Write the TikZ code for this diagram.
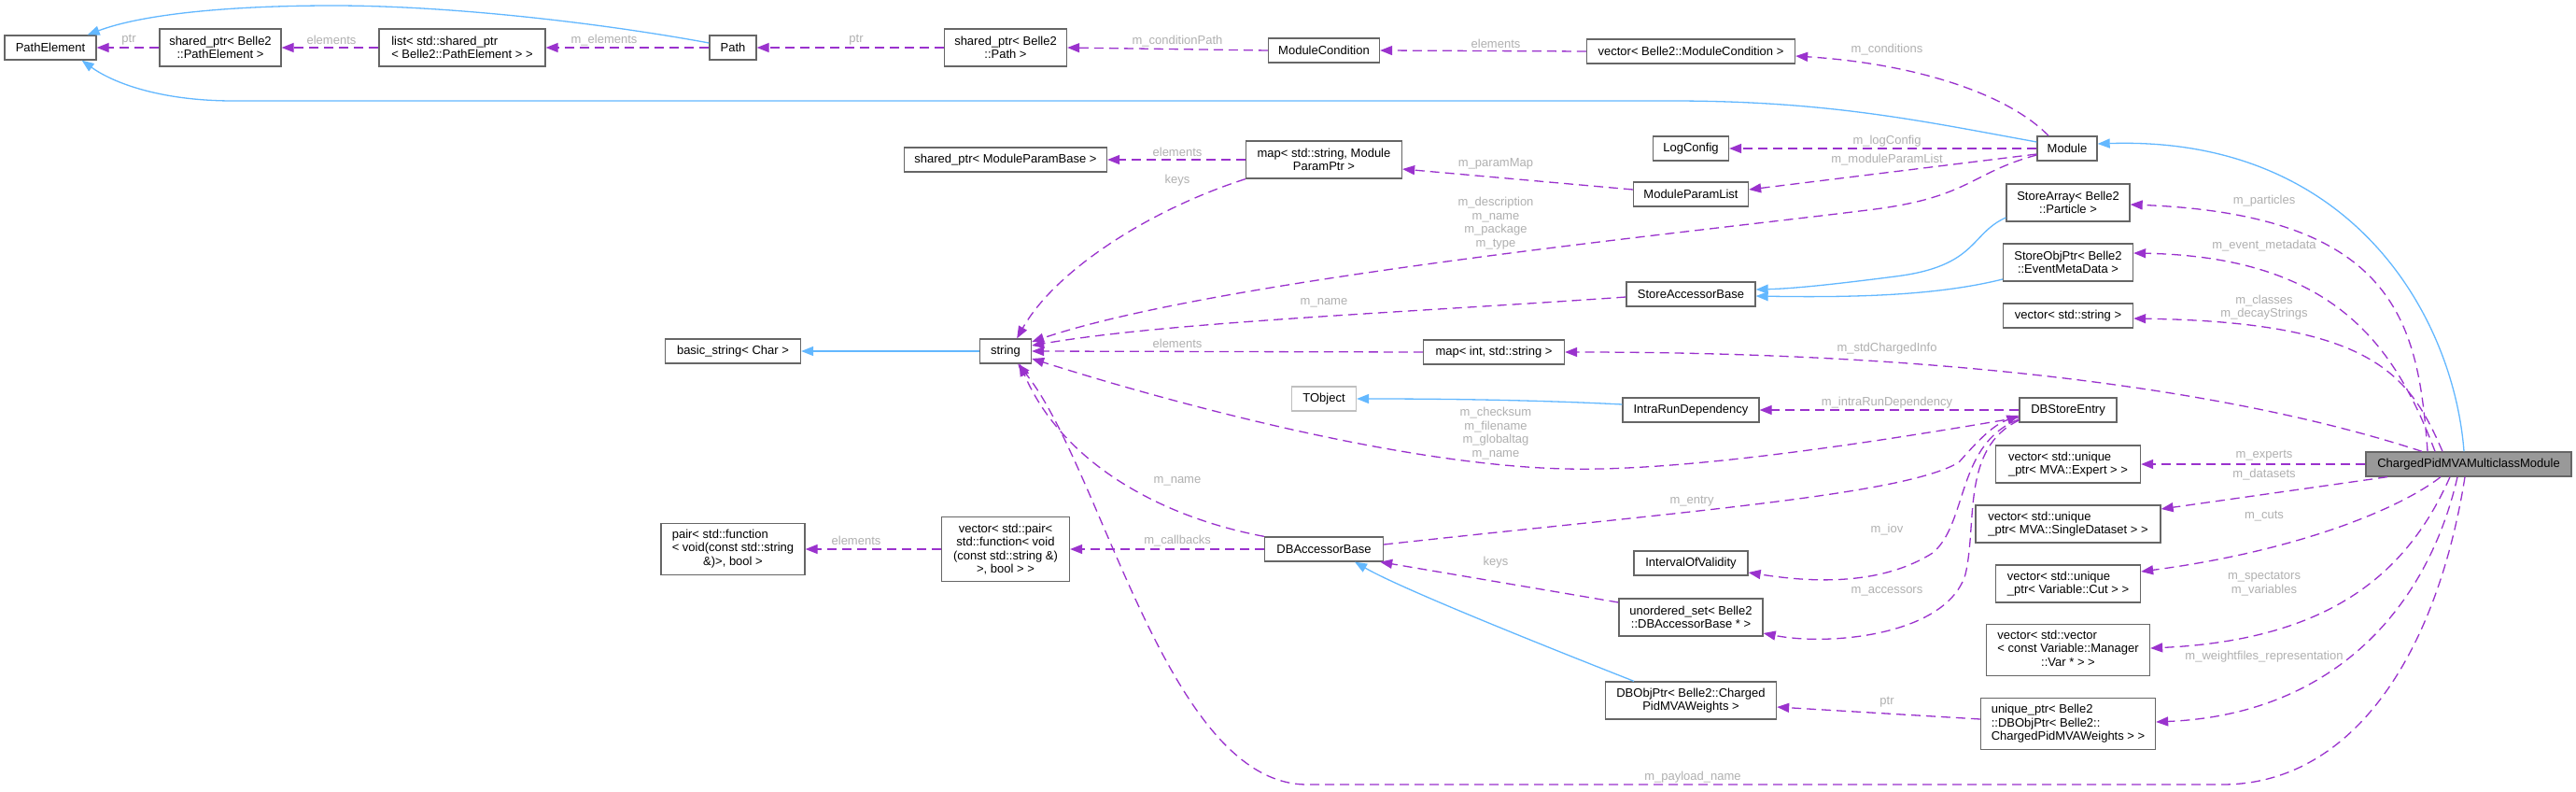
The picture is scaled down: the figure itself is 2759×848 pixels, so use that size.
\documentclass[tikz,border=0pt]{standalone}
\usepackage{fontspec}
\setmainfont{Liberation Sans}
\usetikzlibrary{arrows.meta}
\definecolor{bcol}{HTML}{666666}
\definecolor{inhcol}{HTML}{63B8FF}
\definecolor{usecol}{HTML}{9A32CD}
\definecolor{lblcol}{HTML}{B0B0B0}
\definecolor{selcol}{HTML}{999999}
\definecolor{tobcol}{HTML}{BFBFBF}
\begin{document}
\begin{tikzpicture}[x=1pt,y=-1pt,
  cls/.style={draw=bcol, line width=1.3pt, fill=white, inner sep=0pt, font=\fontsize{13}{14.5}\selectfont, align=center, text=black},
  lbl/.style={text=lblcol, inner sep=0pt, font=\fontsize{13}{14.5}\selectfont, align=center},
  inh/.style={draw=inhcol, line width=1.3pt, -{Triangle[length=13pt,width=10pt]}},
  use/.style={draw=usecol, line width=1.3pt, dash pattern=on 10pt off 6pt, -{Triangle[length=13pt,width=10pt]}},
]
\fill[white] (0,0) rectangle (2759,848);
\path[use as bounding box] (0,0) rectangle (2759,848);

% ---------- nodes ----------
\node[cls, minimum width=98pt, minimum height=26pt] (PE) at (54,51) {PathElement};
\node[cls, minimum width=130pt, minimum height=40pt] (SPE) at (236,51) {shared\_ptr< Belle2\\::PathElement >};
\node[cls, minimum width=178pt, minimum height=40pt, align=left] (LST) at (495,51) {list< std::shared\_ptr\\< Belle2::PathElement > >};
\node[cls, minimum width=50pt, minimum height=26pt] (PATH) at (785,51) {Path};
\node[cls, minimum width=131pt, minimum height=40pt] (SPP) at (1077,51) {shared\_ptr< Belle2\\::Path >};
\node[cls, minimum width=119pt, minimum height=26pt] (MC) at (1418,54) {ModuleCondition};
\node[cls, minimum width=223pt, minimum height=26pt] (VMC) at (1811,55) {vector< Belle2::ModuleCondition >};
\node[cls, minimum width=64pt, minimum height=26pt] (MOD) at (2214,159) {Module};
\node[cls, minimum width=81pt, minimum height=26pt] (LOG) at (1811,159) {LogConfig};
\node[cls, minimum width=123pt, minimum height=26pt] (MPL) at (1811,208) {ModuleParamList};
\node[cls, minimum width=217pt, minimum height=26pt] (SPMB) at (1077,171) {shared\_ptr< ModuleParamBase >};
\node[cls, minimum width=167pt, minimum height=40pt] (MAP) at (1418,171) {map< std::string, Module\\ParamPtr >};
\node[cls, minimum width=132pt, minimum height=40pt] (SAP) at (2215,217) {StoreArray< Belle2\\::Particle >};
\node[cls, minimum width=139pt, minimum height=40pt] (SOP) at (2215,281) {StoreObjPtr< Belle2\\::EventMetaData >};
\node[cls, minimum width=138pt, minimum height=26pt] (SAB) at (1811,315) {StoreAccessorBase};
\node[cls, minimum width=139pt, minimum height=26pt] (VS) at (2215,338) {vector< std::string >};
\node[cls, minimum width=145pt, minimum height=26pt] (BS) at (785,376) {basic\_string< Char >};
\node[cls, minimum width=55pt, minimum height=26pt] (STR) at (1077,376) {string};
\node[cls, minimum width=151pt, minimum height=26pt] (MIS) at (1600,377) {map< int, std::string >};
\node[cls, draw=tobcol, minimum width=69pt, minimum height=26pt] (TOB) at (1418,427) {TObject};
\node[cls, minimum width=146pt, minimum height=26pt] (IRD) at (1811,439) {IntraRunDependency};
\node[cls, minimum width=104pt, minimum height=26pt] (DBSE) at (2215,439) {DBStoreEntry};
\node[cls, fill=selcol, minimum width=220pt, minimum height=26pt] (CPM) at (2644,497) {ChargedPidMVAMulticlassModule};
\node[cls, align=left, minimum width=155pt, minimum height=40pt] (VEX) at (2215,497) {vector< std::unique\\\_ptr< MVA::Expert > >};
\node[cls, align=left, minimum width=198pt, minimum height=40pt] (VSD) at (2215,561) {vector< std::unique\\\_ptr< MVA::SingleDataset > >};
\node[cls, align=left, minimum width=155pt, minimum height=40pt] (VCUT) at (2215,625) {vector< std::unique\\\_ptr< Variable::Cut > >};
\node[cls, minimum width=175pt, minimum height=55pt] (VVAR) at (2215,696) {\begin{tabular}{@{}l@{}}vector< std::vector\\< const Variable::Manager\\\multicolumn{1}{@{}c@{}}{::Var * > >}\end{tabular}};
\node[cls, align=left, minimum width=187pt, minimum height=55pt] (UPD) at (2215,775) {unique\_ptr< Belle2\\::DBObjPtr< Belle2::\\ChargedPidMVAWeights > >};
\node[cls, minimum width=122pt, minimum height=26pt] (IOV) at (1811,603) {IntervalOfValidity};
\node[cls, minimum width=154pt, minimum height=40pt] (US) at (1811,661) {unordered\_set< Belle2\\::DBAccessorBase * >};
\node[cls, minimum width=183pt, minimum height=40pt] (DBOP) at (1811,750) {DBObjPtr< Belle2::Charged\\PidMVAWeights >};
\node[cls, minimum width=127pt, minimum height=26pt] (DBAB) at (1418,588) {DBAccessorBase};
\node[cls, minimum width=137pt, minimum height=69pt] (VP) at (1077,588) {vector< std::pair<\\std::function< void\\(const std::string \&)\\>, bool > >};
\node[cls, minimum width=154pt, minimum height=55pt] (PAIR) at (785,588) {\begin{tabular}{@{}l@{}}pair< std::function\\< void(const std::string\\\multicolumn{1}{@{}c@{}}{\&)>, bool >}\end{tabular}};

% ---------- labels ----------
\node[lbl] (l1) at (138,43) {ptr};
\node[lbl] (l2) at (355,43) {elements};
\node[lbl] (l3) at (647,43) {m\_elements};
\node[lbl] (l4) at (917,43) {ptr};
\node[lbl] (l5) at (1261,44) {m\_conditionPath};
\node[lbl] (l6) at (1602,47) {elements};
\node[lbl] (l7) at (2021,53) {m\_conditions};
\node[lbl] (l8) at (1261,163) {elements};
\node[lbl] (l9) at (1261,193) {keys};
\node[lbl] (l10) at (2021,151) {m\_logConfig};
\node[lbl] (l11) at (2021,171) {m\_moduleParamList};
\node[lbl] (l12) at (1602,175) {m\_paramMap};
\node[lbl] (l13) at (1602,239) {m\_description\\m\_name\\m\_package\\m\_type};
\node[lbl] (l14) at (2425,215) {m\_particles};
\node[lbl] (l15) at (2425,263) {m\_event\_metadata};
\node[lbl] (l16) at (1418,324) {m\_name};
\node[lbl] (l17) at (2425,329) {m\_classes\\m\_decayStrings};
\node[lbl] (l18) at (1261,368) {elements};
\node[lbl] (l19) at (2021,373) {m\_stdChargedInfo};
\node[lbl] (l20) at (2021,431) {m\_intraRunDependency};
\node[lbl] (l21) at (1602,464) {m\_checksum\\m\_filename\\m\_globaltag\\m\_name};
\node[lbl] (l22) at (2425,488) {m\_experts};
\node[lbl] (l23) at (2425,508) {m\_datasets};
\node[lbl] (l24) at (1261,515) {m\_name};
\node[lbl] (l25) at (1812,537) {m\_entry};
\node[lbl] (l26) at (2425,553) {m\_cuts};
\node[lbl] (l27) at (2021,567) {m\_iov};
\node[lbl] (l28) at (917,579) {elements};
\node[lbl] (l29) at (1261,579) {m\_callbacks};
\node[lbl] (l30) at (1602,602) {keys};
\node[lbl] (l31) at (2425,625) {m\_spectators\\m\_variables};
\node[lbl] (l32) at (2021,633) {m\_accessors};
\node[lbl] (l33) at (2425,703) {m\_weightfiles\_representation};
\node[lbl] (l34) at (2021,752) {ptr};
\node[lbl] (l35) at (1813,832) {m\_payload\_name};

% ---------- inheritance ----------
\draw[inh] ([yshift=5pt]PATH.west) .. controls (640,24) and (480,6) .. (357,6) .. controls (240,6) and (150,16) .. ([xshift=-10pt]PE.north east);
\draw[inh] ([yshift=7pt]MOD.west) .. controls (2060,130) and (1960,108) .. (1790,108) -- (250,108) .. controls (170,108) and (120,88) .. ([xshift=-16pt]PE.south east);
\draw[inh] ([xshift=-5pt]CPM.north) .. controls (2628,340) and (2520,145) .. ([yshift=5pt]MOD.east);
\draw[inh] ([yshift=-16pt]SAP.west) .. controls (2110,250) and (2118,285) .. (2030,296) .. controls (1960,305) and (1920,309) .. ([yshift=5pt]SAB.east);
\draw[inh] ([yshift=-18pt]SOP.west) .. controls (2080,315) and (2000,319) .. ([yshift=-2pt]SAB.east);
\draw[inh] (STR.west) -- (BS.east);
\draw[inh] ([yshift=6pt]IRD.west) .. controls (1640,428) and (1540,427) .. (TOB.east);
\draw[inh] ([xshift=-61pt]DBOP.north) .. controls (1650,690) and (1500,630) .. ([xshift=33pt]DBAB.south);

% ---------- usage ----------
\draw[use] (SPE.west) -- (PE.east);
\draw[use] (LST.west) -- (SPE.east);
\draw[use] (PATH.west) -- (LST.east);
\draw[use] (SPP.west) -- (PATH.east);
\draw[use] (MC.west) -- (SPP.east);
\draw[use] (VMC.west) -- (MC.east);
\draw[use] ([xshift=-20pt]MOD.north) .. controls (2150,100) and (2050,68) .. ([yshift=-5pt]VMC.east);
\draw[use] (MOD.west) -- (LOG.east);
\draw[use] ([yshift=-6pt]MOD.west) -- ([yshift=5pt]MPL.east);
\draw[use] ([yshift=5pt]MPL.west) -- ([yshift=-10pt]MAP.east);
\draw[use] (MAP.west) -- (SPMB.east);
\draw[use] (MAP.south west) .. controls (1230,225) and (1130,290) .. ([xshift=-16pt]STR.north east);
\draw[use] ([yshift=-7pt]MOD.west) .. controls (2110,185) and (2110,212) .. (2000,225) .. controls (1800,250) and (1300,300) .. ([yshift=10pt]STR.east);
\draw[use] ([yshift=-3pt]SAB.west) .. controls (1500,335) and (1250,345) .. ([yshift=6pt]STR.east);
\draw[use] (MIS.west) -- (STR.east);
\draw[use] ([yshift=-8pt]DBSE.west) .. controls (2000,475) and (1800,505) .. (1677,502) .. controls (1500,498) and (1250,430) .. ([yshift=-8pt]STR.east);
\draw[use] (DBAB.north west) .. controls (1250,555) and (1140,500) .. ([xshift=-13pt]STR.south east);
\draw[use] (DBAB.west) -- (VP.east);
\draw[use] (VP.west) -- (PAIR.east);
\draw[use] (DBSE.west) -- (IRD.east);
\draw[use] ([yshift=5pt]DBAB.east) .. controls (1800,548) and (2040,530) .. (2098,495) .. controls (2120,470) and (2135,455) .. ([yshift=-6pt]DBSE.west);
\draw[use] ([yshift=-10pt]DBSE.west) .. controls (2095,475) and (2108,560) .. (2070,592) .. controls (2010,630) and (1930,622) .. ([yshift=-10pt]IOV.east);
\draw[use] ([yshift=-11pt]DBSE.west) .. controls (2100,480) and (2118,560) .. (2105,615) .. controls (2085,680) and (1960,692) .. ([yshift=-17pt]US.east);
\draw[use] ([yshift=16pt]US.west) -- ([xshift=-4pt]DBAB.south east);
\draw[use] ([yshift=5pt]UPD.west) -- ([yshift=-7pt]DBOP.east);
\draw[use] ([xshift=-44pt]CPM.north) .. controls (2590,350) and (2570,230) .. ([yshift=-2pt]SAP.east);
\draw[use] ([xshift=-36pt]CPM.north) .. controls (2565,370) and (2500,275) .. ([yshift=10pt]SOP.east);
\draw[use] ([xshift=-28pt]CPM.north) .. controls (2580,400) and (2540,345) .. ([yshift=-3pt]VS.east);
\draw[use] ([xshift=-50pt]CPM.north) .. controls (2400,420) and (2100,377) .. (MIS.east);
\draw[use] (CPM.west) -- (VEX.east);
\draw[use] ([xshift=-87pt]CPM.south) -- ([yshift=16pt]VSD.east);
\draw[use] ([xshift=-30pt]CPM.south) .. controls (2570,545) and (2460,590) .. ([yshift=13pt]VCUT.east);
\draw[use] ([xshift=-20pt]CPM.south) .. controls (2580,610) and (2500,685) .. ([yshift=2pt]VVAR.east);
\draw[use] ([xshift=-12pt]CPM.south) .. controls (2600,650) and (2500,765) .. ([yshift=2pt]UPD.east);
\draw[use] ([xshift=-4pt]CPM.south) .. controls (2610,700) and (2520,840) .. (2380,840) -- (1400,840) .. controls (1250,840) and (1180,500) .. ([xshift=-15pt]STR.south east);
\end{tikzpicture}
\end{document}
